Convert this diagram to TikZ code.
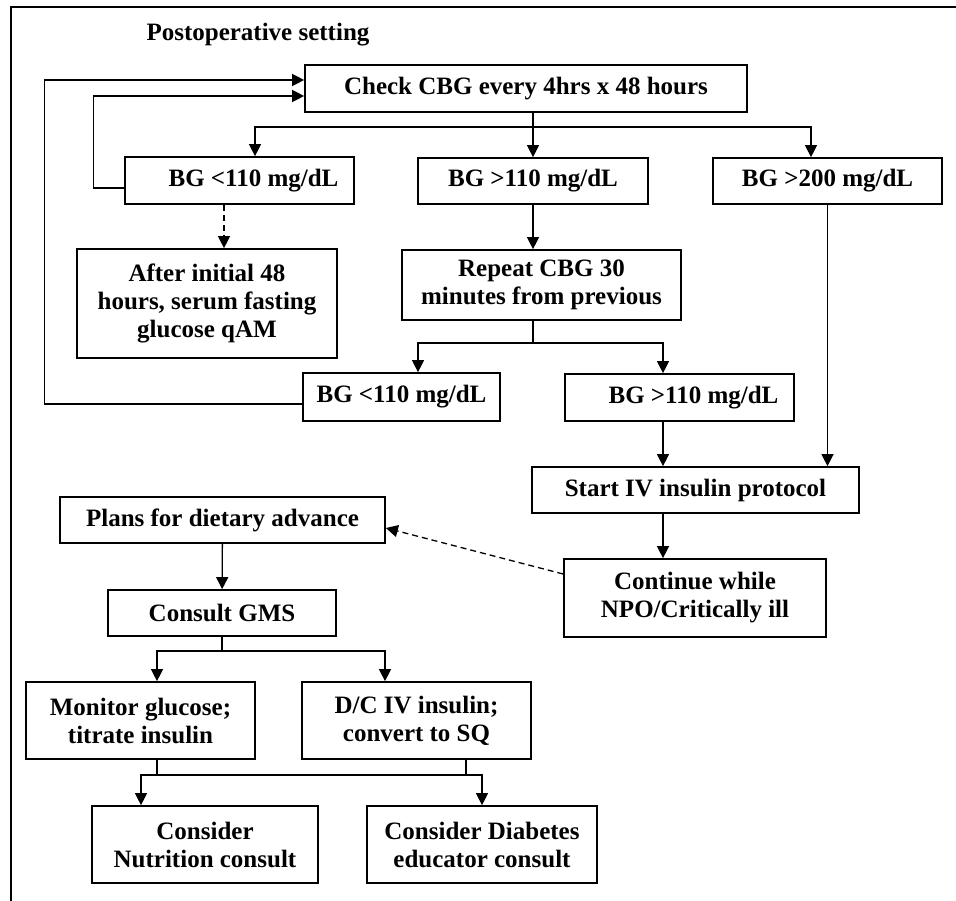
\documentclass[tikz,border=0pt]{standalone}
\usepackage{fontspec}
\setmainfont{Liberation Serif}
\usetikzlibrary{arrows.meta}

\begin{document}
\begin{tikzpicture}[x=1pt, y=-1pt, every node/.style={font=\fontsize{25}{28}\selectfont\bfseries}, box/.style={rectangle, draw, line width=1.7pt, align=center, inner sep=0pt}, arrow/.style={-{Triangle[length=12pt, width=12pt]}, line width=1.3pt}, line/.style={line width=1.3pt}, dashline/.style={dash pattern=on 6pt off 4pt}]
	\useasboundingbox (0,0) rectangle (956,901);
	\draw[line width=1.2pt] (956,7) -- (11,7) -- (11,901);

	\node (title) [anchor=base west] at (143,41) {Postoperative setting};
	\node (check) [box, minimum width=442pt, minimum height=47pt] at (526,88.5) {Check CBG every 4hrs x 48 hours};
	\node (low1) [box, minimum width=229pt, minimum height=47pt] at (239.5,180.5) {\hspace*{28pt}BG <110 mg/dL};
	\node (high1) [box, minimum width=230pt, minimum height=46pt] at (533,181) {BG >110 mg/dL};
	\node (high200) [box, minimum width=229pt, minimum height=46pt] at (827.5,181) {BG >200 mg/dL};
	\node (after) [box, minimum width=260pt, minimum height=109pt] at (207,303.5) {After initial 48\\hours, serum fasting\\glucose qAM};
	\node (repeat) [box, minimum width=279pt, minimum height=70pt] at (541.5,285) {Repeat CBG 30\\minutes from previous};
	\node (low2) [box, minimum width=197pt, minimum height=48pt] at (401.5,397) {BG <110 mg/dL};
	\node (high2) [box, minimum width=229pt, minimum height=47pt] at (679.5,397.5) {\hspace*{28pt}BG >110 mg/dL};
	\node (start) [box, minimum width=327pt, minimum height=46pt] at (695.5,490) {Start IV insulin protocol};
	\node (cont) [box, minimum width=262pt, minimum height=78pt] at (695,598) {Continue while\\NPO/Critically ill};
	\node (plans) [box, minimum width=325pt, minimum height=46pt] at (222.5,520) {Plans for dietary advance};
	\node (gms) [box, minimum width=228pt, minimum height=46pt] at (222,613) {Consult GMS};
	\node (monitor) [box, minimum width=229pt, minimum height=77pt] at (140.5,720.5) {Monitor glucose;\\titrate insulin};
	\node (dc) [box, minimum width=229pt, minimum height=77pt] at (416.5,720.5) {D/C IV insulin;\\convert to SQ};
	\node (nutr) [box, minimum width=226pt, minimum height=77pt] at (205,844.5) {Consider\\Nutrition consult};
	\node (diab) [box, minimum width=230pt, minimum height=77pt] at (482,844.5) {Consider Diabetes\\educator consult};

	\coordinate (split1) at (533,127);
	\coordinate (split2) at (533,343);
	\coordinate (split3) at (222,651);
	\coordinate (split4) at (157,775);
	\coordinate (split5) at (466,775);

	\draw[line] (check.south -| split1) -- (split1);
	\draw[arrow] (split1) -- (high1);
	\draw[arrow] (split1) -| ([xshift=15.5pt]low1.north);
	\draw[arrow] (split1) -| ([xshift=-16.5pt]high200.north);
	\draw[arrow] ([yshift=-7.5pt]low1.west) -- ++(-31,0) |- ([yshift=-7.5pt]check.west);
	\draw[arrow] ([yshift=-7pt]low2.west) -- ++(-258,0) |- ([yshift=8.5pt]check.west);
	\draw[arrow, dashline] ([xshift=-15.5pt]low1.south) -- ([xshift=-15.5pt]low1.south |- after.north);
	\draw[arrow] (high1) -- (high1 |- repeat.north);
	\draw[line] (split2 |- repeat.south) -- (split2);
	\draw[arrow] (split2) -| ([xshift=16.5pt]low2.north);
	\draw[arrow] (split2) -| ([xshift=-16.5pt]high2.north);
	\draw[arrow] ([xshift=-16.5pt]high2.south) -- ([xshift=-16.5pt]high2.south |- start.north);
	\draw[arrow] (high200) -- (high200 |- start.north);
	\draw[arrow] ([xshift=-32.5pt]start.south) -- ([xshift=-32.5pt]start.south |- cont.north);
	\draw[arrow, dashline] ([yshift=24pt]cont.west) -- ([yshift=-8pt]plans.east);
	\draw[arrow] (plans) -- (gms);
	\draw[line] (gms) -- (split3);
	\draw[arrow] (split3) -| ([xshift=16.5pt]monitor.north);
	\draw[arrow] (split3) -| ([xshift=-31.5pt]dc.north);
	\draw[line] ([xshift=16.5pt]monitor.south) -- (split4);
	\draw[line] ([xshift=49.5pt]dc.south) -- (split5);
	\draw[arrow] (split5) -| ([xshift=-64pt]nutr.north);
	\draw[arrow] (split4) -| (diab.north);

\end{tikzpicture}
\end{document}
